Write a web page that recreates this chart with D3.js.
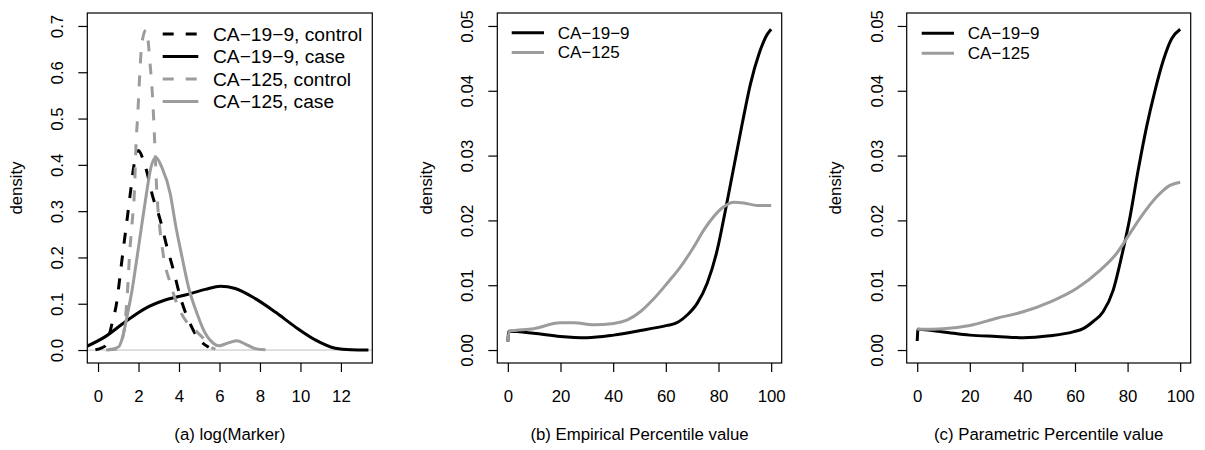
<!DOCTYPE html>
<html>
<head>
<meta charset="utf-8">
<script src="https://cdn.jsdelivr.net/npm/d3@7"></script>
<style>
	body { margin: 0; background: #fff; }
	text { font-family: "Liberation Sans", Arial, Helvetica, sans-serif; fill: #000; }
</style>
</head>
<body>
<div id="vis"></div>
<script>
// ---- data ----
// (a) density of log(marker), [x, density]
const ca199Control = [[-0.13, 0.0005], [0.36, 0.009], [0.69, 0.057], [0.94, 0.108], [1.10, 0.165], [1.26, 0.222], [1.43, 0.28], [1.6, 0.34], [1.78, 0.40], [2.0, 0.431], [2.2, 0.415], [2.42, 0.384], [2.67, 0.337], [3.08, 0.28], [3.41, 0.222], [3.73, 0.172], [4.06, 0.115], [4.47, 0.065], [4.89, 0.029], [5.47, 0.006]];
const ca199Case = [[-0.6, 0.007], [0.36, 0.029], [1.35, 0.061], [2.34, 0.090], [3.32, 0.108], [4.31, 0.119], [5.3, 0.131], [6.04, 0.138], [6.78, 0.133], [7.77, 0.111], [8.76, 0.082], [9.74, 0.050], [10.73, 0.022], [11.72, 0.004], [12.5, 0.0006], [13.36, 0.0]];
const ca125Control = [[0.4, 0.0], [0.94, 0.002], [1.19, 0.022], [1.35, 0.065], [1.46, 0.129], [1.55, 0.201], [1.68, 0.273], [1.8, 0.345], [1.88, 0.449], [1.96, 0.506], [2.04, 0.578], [2.17, 0.664], [2.38, 0.692], [2.58, 0.614], [2.7, 0.542], [2.8, 0.449], [2.91, 0.337], [3.03, 0.273], [3.24, 0.201], [3.57, 0.144], [3.9, 0.100], [4.31, 0.065], [4.8, 0.043], [5.21, 0.025], [5.55, 0.007], [5.8, 0.002]];
const ca125Case = [[0.5, 0.0005], [1.02, 0.007], [1.22, 0.029], [1.43, 0.072], [1.68, 0.129], [1.93, 0.201], [2.17, 0.273], [2.39, 0.337], [2.6, 0.392], [2.86, 0.416], [3.15, 0.395], [3.57, 0.337], [3.82, 0.273], [4.15, 0.201], [4.47, 0.136], [4.89, 0.079], [5.3, 0.036], [5.71, 0.014], [5.96, 0.009], [6.29, 0.013], [6.86, 0.020], [7.27, 0.013], [7.77, 0.003], [8.27, 0.0005]];

// (b) empirical percentile value, [percentile, density]
const empCa199 = [[0, 0.0013], [0.4, 0.0029], [9.8, 0.0026], [19.9, 0.0021], [30, 0.0019], [40.2, 0.0023], [50.3, 0.0030], [60.5, 0.0038], [63.6, 0.0041], [68.1, 0.0054], [71.9, 0.0072], [75.7, 0.0103], [79.5, 0.0154], [82.6, 0.0215], [85.8, 0.0282], [89, 0.0349], [92.1, 0.041], [95.3, 0.0456], [98.5, 0.0487], [100, 0.0495]];
const empCa125 = [[0, 0.0013], [0.5, 0.0029], [9.8, 0.0033], [19.9, 0.0042], [25, 0.0042], [32.6, 0.0039], [40.2, 0.0041], [45.2, 0.0046], [50.3, 0.0059], [55.4, 0.0079], [60.5, 0.0103], [65.5, 0.0128], [70.6, 0.0159], [74.4, 0.0185], [78.2, 0.0206], [82, 0.0221], [85.8, 0.0228], [89.6, 0.0227], [94.7, 0.0223], [100, 0.0223]];

// (c) parametric percentile value, [percentile, density]
const parCa199 = [[0, 0.0014], [0.3, 0.0032], [9.9, 0.0028], [20, 0.0023], [30.2, 0.0021], [40.3, 0.0019], [50.4, 0.0022], [59.3, 0.0028], [63.1, 0.0033], [66.9, 0.0044], [70.7, 0.0059], [74.5, 0.0092], [77.7, 0.0144], [80.9, 0.0205], [84, 0.0277], [87.2, 0.0344], [90.4, 0.040], [93.5, 0.0446], [96.7, 0.048], [100, 0.0495]];
const parCa125 = [[0, 0.0032], [9.9, 0.0033], [20, 0.0038], [30.2, 0.0049], [40.3, 0.0059], [50.4, 0.0074], [60.6, 0.0095], [69.5, 0.0123], [75.8, 0.0149], [80.9, 0.018], [85.9, 0.021], [91, 0.0236], [96.1, 0.0254], [100, 0.0259]];

const xTicksMarker = [0, 2, 4, 6, 8, 10, 12];
const yTicksMarker = [0, 0.1, 0.2, 0.3, 0.4, 0.5, 0.6, 0.7];
const xTicksPct = [0, 20, 40, 60, 80, 100];
const yTicksPct = [0, 0.01, 0.02, 0.03, 0.04, 0.05];

const legendMarker = ["CA\u221219\u22129, control", "CA\u221219\u22129, case", "CA\u2212125, control", "CA\u2212125, case"];
const legendPct = ["CA\u221219\u22129", "CA\u2212125"];
const xTitles = ["(a) log(Marker)", "(b) Empirical Percentile value", "(c) Parametric Percentile value"];

const GRAY = "#9c9c9c";
const DASH = "11,12";

const main = () => {
	draw();
};

const draw = () => {
	const svg = d3.select("#vis").append("svg")
		.attr("width", 1205)
		.attr("height", 450);
	svg.append("rect").attr("width", 1205).attr("height", 450).attr("fill", "#fff");

	const top = 13, bottom = 363;

	const panels = [
		{
			left: 87.3, right: 372.3, xDom: [-0.53, 13.55], yDom: [-0.028, 0.728],
			xTicks: xTicksMarker, yTicks: yTicksMarker, yFmt: d3.format(".1f"),
			series: [
				{ data: ca199Control, color: "#000", dash: DASH },
				{ data: ca199Case, color: "#000", dash: null },
				{ data: ca125Control, color: GRAY, dash: DASH },
				{ data: ca125Case, color: GRAY, dash: null }
			],
			legend: legendMarker, legX: [162.7, 198.3, 213], legY: 34, legStep: 22.5, legFont: 19.2,
			zeroLine: true, title: xTitles[0]
		},
		{
			left: 497.3, right: 781.7, xDom: [-4, 104], yDom: [-0.002, 0.052],
			xTicks: xTicksPct, yTicks: yTicksPct, yFmt: d3.format(".2f"),
			series: [
				{ data: empCa199, color: "#000", dash: null },
				{ data: empCa125, color: GRAY, dash: null }
			],
			legend: legendPct, legX: [511.7, 544, 557.7], legY: 32.7, legStep: 19.8, legFont: 17,
			zeroLine: false, title: xTitles[1]
		},
		{
			left: 906.7, right: 1190.7, xDom: [-4, 104], yDom: [-0.002, 0.052],
			xTicks: xTicksPct, yTicks: yTicksPct, yFmt: d3.format(".2f"),
			series: [
				{ data: parCa199, color: "#000", dash: null },
				{ data: parCa125, color: GRAY, dash: null }
			],
			legend: legendPct, legX: [921.7, 954, 967.7], legY: 33.3, legStep: 20, legFont: 17,
			zeroLine: false, title: xTitles[2]
		}
	];

	panels.forEach((p, idx) => {
		const x = d3.scaleLinear().domain(p.xDom).range([p.left, p.right]);
		const y = d3.scaleLinear().domain(p.yDom).range([bottom, top]);
		const g = svg.append("g");

		g.append("clipPath").attr("id", `clip${idx}`)
			.append("rect")
			.attr("x", p.left).attr("y", top)
			.attr("width", p.right - p.left).attr("height", bottom - top);

		// zero line drawn by plot.density
		if (p.zeroLine) {
			g.append("line")
				.attr("x1", p.left).attr("x2", p.right)
				.attr("y1", y(0)).attr("y2", y(0))
				.attr("stroke", "#bebebe").attr("stroke-width", 1);
		}

		const line = d3.line()
			.x(d => x(d[0]))
			.y(d => y(d[1]))
			.curve(d3.curveMonotoneX);

		const curves = g.append("g").attr("clip-path", `url(#clip${idx})`);
		p.series.forEach(s => {
			curves.append("path")
				.attr("d", line(s.data))
				.attr("fill", "none")
				.attr("stroke", s.color)
				.attr("stroke-width", 3)
				.attr("stroke-linejoin", "round")
				.attr("stroke-dasharray", s.dash);
		});

		// box
		g.append("rect")
			.attr("x", p.left).attr("y", top)
			.attr("width", p.right - p.left).attr("height", bottom - top)
			.attr("fill", "none").attr("stroke", "#000").attr("stroke-width", 1.2);

		// axes
		const xAxis = d3.axisBottom(x).tickValues(p.xTicks).tickSize(9).tickPadding(9).tickFormat(d3.format("d"));
		const gx = g.append("g").attr("transform", `translate(0,${bottom})`).call(xAxis);
		gx.select(".domain").remove();
		gx.selectAll("line").attr("stroke", "#000").attr("stroke-width", 1.2);
		gx.selectAll("text").attr("font-size", 16.8).attr("dy", null).attr("y", 38.5)
			.attr("font-family", "Liberation Sans, Arial, sans-serif");

		const yAxis = d3.axisLeft(y).tickValues(p.yTicks).tickSize(9).tickFormat(p.yFmt);
		const gy = g.append("g").attr("transform", `translate(${p.left},0)`).call(yAxis);
		gy.select(".domain").remove();
		gy.selectAll("line").attr("stroke", "#000").attr("stroke-width", 1.2);
		gy.selectAll("text")
			.attr("font-size", 16.8)
			.attr("font-family", "Liberation Sans, Arial, sans-serif")
			.attr("x", null).attr("dy", null)
			.attr("text-anchor", "middle")
			.attr("transform", "translate(-24,0) rotate(-90)");

		// axis titles
		g.append("text")
			.attr("x", (p.left + p.right) / 2).attr("y", 440)
			.attr("text-anchor", "middle").attr("font-size", 16.8)
			.text(p.title);
		g.append("text")
			.attr("transform", `translate(${p.left - 65.5},${(top + bottom) / 2}) rotate(-90)`)
			.attr("text-anchor", "middle").attr("font-size", 16.8)
			.text("density");

		// legend
		p.legend.forEach((label, i) => {
			const s = p.series[i];
			const ly = p.legY + i * p.legStep;
			g.append("line")
				.attr("x1", p.legX[0]).attr("x2", p.legX[1])
				.attr("y1", ly).attr("y2", ly)
				.attr("stroke", s.color).attr("stroke-width", 3)
				.attr("stroke-dasharray", s.dash);
			g.append("text")
				.attr("x", p.legX[2]).attr("y", ly)
				.attr("dy", "0.35em")
				.attr("font-size", p.legFont)
				.text(label);
		});
	});
};

main();
</script>
</body>
</html>
